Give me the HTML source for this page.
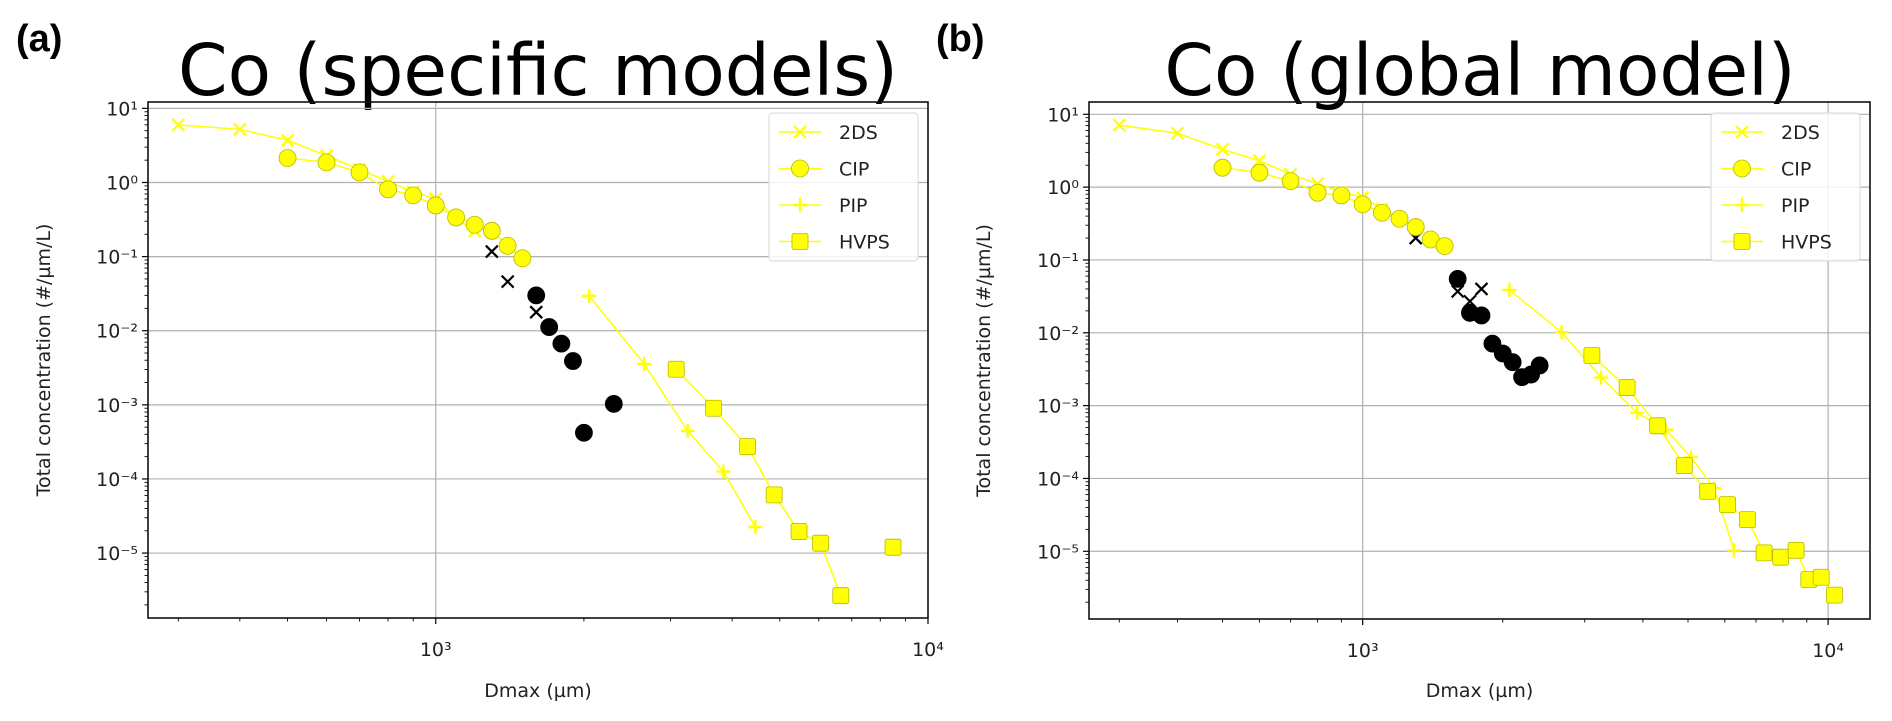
<!DOCTYPE html>
<html><head><meta charset="utf-8">
<style>
html,body{margin:0;padding:0;background:#fff;}
svg{display:block;font-family:"DejaVu Sans","Liberation Sans",sans-serif;}
</style></head>
<body>
<svg id="fig" width="1892" height="721" viewBox="0 0 1892 721" xmlns="http://www.w3.org/2000/svg">
<rect x="0" y="0" width="1892" height="721" fill="#fff"/>
<text x="16" y="51" font-size="38" font-weight="bold" font-family="Liberation Sans, sans-serif">(a)</text>
<text x="936" y="51" font-size="38" font-weight="bold" font-family="Liberation Sans, sans-serif">(b)</text>
<text x="538" y="95" font-size="71" text-anchor="middle">Co (specific models)</text>
<text x="1480" y="95" font-size="71" text-anchor="middle">Co (global model)</text>
<g id="pa"></g>
<g id="pb"></g>
</svg>
<script>
// ---- Panel (a) data ----
const a2dsX=[300,400,500,600,700,800,900,1000,1100,1200];
const a2dsY=[6.0,5.2,3.7,2.3,1.5,1.03,0.75,0.60,0.33,0.22];
const a2dsBlackX=[1300,1400,1600];
const a2dsBlackY=[0.117,0.046,0.0178];
const aCipX=[500,600,700,800,900,1000,1100,1200,1300,1400,1500];
const aCipY=[2.14,1.87,1.37,0.81,0.67,0.49,0.338,0.269,0.223,0.140,0.095];
const aCipBlackX=[1600,1700,1800,1900,2000,2300];
const aCipBlackY=[0.030,0.0112,0.0067,0.0039,0.00042,0.00103];
const aPipX=[2050,2650,3250,3840,4460];
const aPipY=[0.0296,0.00356,0.000445,0.000126,0.0000224];
const aHvpsX=[3080,3665,4300,4870,5470,6050,6650];
const aHvpsY=[0.00302,0.00090,0.000273,0.000061,0.0000195,0.0000136,0.00000266];
const aHvpsExtraX=[8490];
const aHvpsExtraY=[0.000012];
// ---- Panel (b) data ----
const b2dsX=[300,400,500,600,700,800,900,1000,1100,1200];
const b2dsY=[7.1,5.5,3.3,2.3,1.5,1.11,0.86,0.72,0.5,0.38];
const b2dsBlackX=[1300,1600,1700,1800];
const b2dsBlackY=[0.20,0.037,0.027,0.040];
const bCipX=[500,600,700,800,900,1000,1100,1200,1300,1400,1500];
const bCipY=[1.85,1.58,1.21,0.84,0.77,0.58,0.445,0.368,0.283,0.191,0.155];
const bCipBlackX=[1600,1700,1800,1900,2000,2100,2200,2300,2400];
const bCipBlackY=[0.055,0.0188,0.0173,0.0071,0.0052,0.00395,0.00246,0.00267,0.00356];
const bPipX=[2066,2675,3255,3887,4485,5075,5690,6280];
const bPipY=[0.0388,0.0102,0.00243,0.00080,0.000466,0.000195,0.000074,0.0000103];
const bHvpsX=[3108,3700,4303,4910,5510,6080,6712,7285,7907,8536,9090,9664,10318];
const bHvpsY=[0.00488,0.00177,0.000528,0.000150,0.0000665,0.0000437,0.0000272,0.0000095,0.0000083,0.0000103,0.00000408,0.0000044,0.0000025];
const yTickExps=[1,0,-1,-2,-3,-4,-5];
const xTickExps=[3,4];
const legendLabels=["2DS","CIP","PIP","HVPS"];

const NS="http://www.w3.org/2000/svg";
function mk(tag,attrs,parent){const e=document.createElementNS(NS,tag);for(const k in attrs)e.setAttribute(k,attrs[k]);parent.appendChild(e);return e;}
const SUP={"0":"⁰","1":"¹","2":"²","3":"³","4":"⁴","5":"⁵","-":"⁻"};
function supStr(n){return String(n).split("").map(c=>SUP[c]).join("");}
const YEL="#ffff00", EDGE="#b8b800";

function marker(g,type,x,y,color,edge,name){
  let e;
  if(type==="o"){e=mk("circle",{cx:x,cy:y,r:8.5,fill:color,stroke:edge,"stroke-width":0.8},g);}
  else if(type==="s"){e=mk("rect",{x:x-8,y:y-8,width:16,height:16,rx:2,fill:color,stroke:edge,"stroke-width":0.8},g);}
  else if(type==="x"){e=mk("path",{d:`M${x-6},${y-6}L${x+6},${y+6}M${x-6},${y+6}L${x+6},${y-6}`,stroke:color,"stroke-width":2.2,fill:"none"},g);}
  else {e=mk("path",{d:`M${x-7},${y}L${x+7},${y}M${x},${y-7}L${x},${y+7}`,stroke:color,"stroke-width":2.4,fill:"none"},g);}
  
  
}

function panel(g,cfg){
  const L=cfg.left,R=cfg.right,T=cfg.top,B=cfg.bottom;
  const sx=v=>L+(Math.log10(v)-cfg.xmin)/(cfg.xmax-cfg.xmin)*(R-L);
  const sy=v=>T+(cfg.ymax-Math.log10(v))/(cfg.ymax-cfg.ymin)*(B-T);
  yTickExps.forEach(e=>{const y=sy(Math.pow(10,e));
    const l=mk("line",{x1:L,x2:R,y1:y,y2:y,stroke:"#b0b0b0","stroke-width":1.2},g);
    
    
    const t=mk("line",{x1:L-6,x2:L,y1:y,y2:y,stroke:"#000","stroke-width":1.2},g);
    
    
    const lab=mk("text",{x:L-10,y:y+7,"font-size":19,"text-anchor":"end",fill:"#222"},g);
    lab.textContent="10"+supStr(e);
    
    
  });
  for(let e=-6;e<=1;e++){for(let m=2;m<=9;m++){const v=m*Math.pow(10,e);const lv=Math.log10(v);
    if(lv<cfg.ymin||lv>cfg.ymax)continue;const y=sy(v);
    const t=mk("line",{x1:L-3.5,x2:L,y1:y,y2:y,stroke:"#000","stroke-width":0.9},g);
    
    }}
  xTickExps.forEach(e=>{const x=sx(Math.pow(10,e));
    const l=mk("line",{x1:x,x2:x,y1:T,y2:B,stroke:"#b0b0b0","stroke-width":1.2},g);
    
    
    const t=mk("line",{x1:x,x2:x,y1:B,y2:B+6,stroke:"#000","stroke-width":1.2},g);
    
    
    const lab=mk("text",{x:x,y:B+38,"font-size":19,"text-anchor":"middle",fill:"#222"},g);
    lab.textContent="10"+supStr(e);
    
    
  });
  for(let e=2;e<=4;e++){for(let m=2;m<=9;m++){const v=m*Math.pow(10,e);const lv=Math.log10(v);
    if(lv<cfg.xmin||lv>cfg.xmax)continue;const x=sx(v);
    const t=mk("line",{x1:x,x2:x,y1:B,y2:B+3.5,stroke:"#000","stroke-width":0.9},g);
    
    }}
  function series(xs,ys,type,color,line,name){
    const sg=mk("g",{},g);
    
    
    if(line){const p=mk("polyline",{points:xs.map((v,i)=>sx(v)+","+sy(ys[i])).join(" "),fill:"none",stroke:YEL,"stroke-width":1.5},sg);
      
      }
    xs.forEach((v,i)=>marker(sg,type,sx(v),sy(ys[i]),color,color===YEL?EDGE:"#000",name+'-point'));
  }
  const d=cfg.data;
  series(d.x2ds,d.y2ds,"x",YEL,true,"series-2ds");
  series(d.x2dsB,d.y2dsB,"x","#000",false,"series-2ds-outliers");
  series(d.xcip,d.ycip,"o",YEL,true,"series-cip");
  series(d.xcipB,d.ycipB,"o","#000",false,"series-cip-outliers");
  series(d.xpip,d.ypip,"+",YEL,true,"series-pip");
  series(d.xhv,d.yhv,"s",YEL,true,"series-hvps");
  if(d.xhvE)series(d.xhvE,d.yhvE,"s",YEL,false,"series-hvps-extra");
  const fr=mk("rect",{x:L,y:T,width:R-L,height:B-T,fill:"none",stroke:"#111","stroke-width":1.6},g);
  
  
  const xl=mk("text",{x:(L+R)/2,y:697,"font-size":19,"text-anchor":"middle",fill:"#222"},g);
  xl.textContent="Dmax (µm)";
  
  
  const yc=(T+B)/2;
  const yl=mk("text",{x:cfg.ylabX,y:yc,"font-size":19,"text-anchor":"middle",fill:"#222",transform:`rotate(-90 ${cfg.ylabX} ${yc})`},g);
  yl.textContent="Total concentration (#/µm/L)";
  
  
  const lg=mk("g",{},g);
  
  
  const lx=cfg.legX, ly=113, lw=R-10-lx;
  const box=mk("rect",{x:lx,y:ly,width:lw,height:148,rx:4,fill:"#fff","fill-opacity":0.85,stroke:"#ddd","stroke-width":1.2},lg);
  
  
  const types=["x","o","+","s"];
  legendLabels.forEach((lab,i)=>{const y=ly+19+i*36.5;
    const ln=mk("line",{x1:lx+10,x2:lx+52,y1:y,y2:y,stroke:YEL,"stroke-width":1.5},lg);
    
    
    marker(lg,types[i],lx+31,y,YEL,EDGE,'legend-marker');
    const t=mk("text",{x:lx+70,y:y+7,"font-size":19,fill:"#222"},lg);
    t.textContent=lab;
    
    
  });
}

panel(document.getElementById("pa"),{left:148,right:928,top:102,bottom:618,
  xmin:2.4155,xmax:4.0,ymin:-5.876,ymax:1.086,ylabX:50,legX:769,
  data:{x2ds:a2dsX,y2ds:a2dsY,x2dsB:a2dsBlackX,y2dsB:a2dsBlackY,xcip:aCipX,ycip:aCipY,xcipB:aCipBlackX,ycipB:aCipBlackY,
    xpip:aPipX,ypip:aPipY,xhv:aHvpsX,yhv:aHvpsY,xhvE:aHvpsExtraX,yhvE:aHvpsExtraY}});
panel(document.getElementById("pb"),{left:1089,right:1870,top:102,bottom:619,
  xmin:2.412,xmax:4.09,ymin:-5.93,ymax:1.169,ylabX:990,legX:1711,
  data:{x2ds:b2dsX,y2ds:b2dsY,x2dsB:b2dsBlackX,y2dsB:b2dsBlackY,xcip:bCipX,ycip:bCipY,xcipB:bCipBlackX,ycipB:bCipBlackY,
    xpip:bPipX,ypip:bPipY,xhv:bHvpsX,yhv:bHvpsY}});
</script>
</body></html>
